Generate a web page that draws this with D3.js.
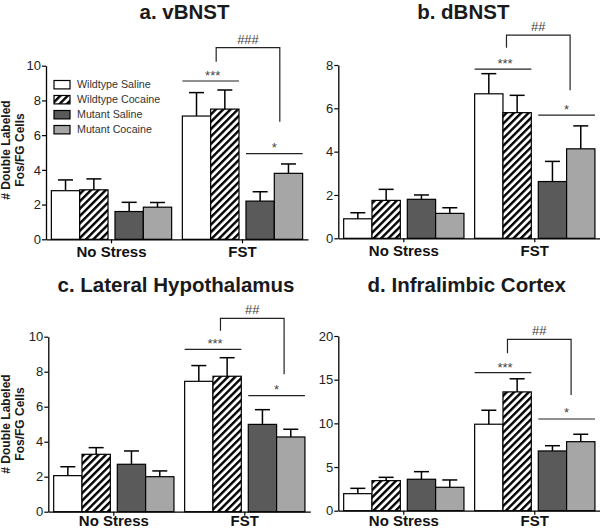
<!DOCTYPE html>
<html><head><meta charset="utf-8">
<script src="https://cdn.jsdelivr.net/npm/d3@7"></script>
<style>body{margin:0;background:#fff} svg{display:block}</style>
</head><body>
<svg id="chart" width="600" height="530"></svg>
<script>
// ---------- data ----------
const categories = ["No Stress", "FST"];
const seriesNames = ["Wildtype Saline", "Wildtype Cocaine", "Mutant Saline", "Mutant Cocaine"];
const panelTitles = ["a. vBNST", "b. dBNST", "c. Lateral Hypothalamus", "d. Infralimbic Cortex"];
const yLabelLines = ["# Double Labeled", "Fos/FG Cells"];
const yMax = [10, 8, 10, 20];
const yTicks = [[0,2,4,6,8,10],[0,2,4,6,8],[0,2,4,6,8,10],[0,5,10,15,20]];

// means and SEM, [category][series]
const vBNSTMeans = [[2.8, 2.85, 1.6, 1.85], [7.1, 7.5, 2.2, 3.8]];
const vBNSTSem   = [[0.62, 0.63, 0.53, 0.27], [1.35, 1.1, 0.54, 0.54]];
const dBNSTMeans = [[0.9, 1.75, 1.8, 1.15], [6.67, 5.8, 2.62, 4.13]];
const dBNSTSem   = [[0.28, 0.51, 0.2, 0.26], [0.93, 0.8, 0.93, 1.06]];
const lhMeans    = [[2.06, 3.28, 2.71, 2.0], [7.45, 7.74, 4.99, 4.27]];
const lhSem      = [[0.51, 0.38, 0.76, 0.33], [0.9, 1.06, 0.84, 0.44]];
const ilMeans    = [[1.95, 3.44, 3.6, 2.68], [9.9, 13.6, 6.84, 7.9]];
const ilSem      = [[0.61, 0.38, 0.87, 0.84], [1.6, 1.5, 0.6, 0.85]];

// significance marks: [wildtype line, bracket top, bracket left end, bracket right end, mutant line]
const sigLabels = [["***", "###", "*"], ["***", "##", "*"], ["***", "##", "*"], ["***", "##", "*"]];
const sigLevels = [
  [9.12, 11.04, 10.23, 6.77, 4.94],
  [7.81, 9.38, 8.8, 6.84, 5.69],
  [9.28, 11.05, 10.34, 7.85, 6.63],
  [15.8, 19.62, 18.02, 13.25, 10.5]
];

const allMeans = [vBNSTMeans, dBNSTMeans, lhMeans, ilMeans];
const allSem = [vBNSTSem, dBNSTSem, lhSem, ilSem];

// ---------- layout / style ----------
const layout = [
  {left: 46,    top: 65.7, bottom: 239.3, titleX: 184.5, titleY: 18.8,  brOff: 5.5, legend: true,  yLab: true,  yLabC: 150, catY: 18},
  {left: 338.3, top: 65,   bottom: 238.3, titleX: 463.3, titleY: 18.8,  brOff: 3.5, legend: false, yLab: false, catY: 18},
  {left: 48.3,  top: 336.7,bottom: 511.7, titleX: 176,   titleY: 291.7, brOff: 7.5, legend: false, yLab: true,  yLabC: 424, catY: 14.6},
  {left: 338.3, top: 336,  bottom: 510.7, titleX: 466.7, titleY: 292.3, brOff: 4.5, legend: false, yLab: false, catY: 15.4}
];
const plotW = 262;
const fills = ["#ffffff", "url(#hatch)", "#5a5a5a", "#a6a6a6"];
const FONT = "Liberation Sans, Arial, Helvetica, sans-serif";

const svg = d3.select("#chart");
const defs = svg.append("defs");
const pat = defs.append("pattern").attr("id", "hatch")
  .attr("patternUnits", "userSpaceOnUse").attr("width", 5.2).attr("height", 5.2)
  .attr("patternTransform", "rotate(45)");
pat.append("rect").attr("width", 5.2).attr("height", 5.2).attr("fill", "#fff");
pat.append("rect").attr("width", 2.4).attr("height", 5.2).attr("fill", "#000");

layout.forEach((L, p) => {
  const g = svg.append("g");
  const y = d3.scaleLinear().domain([0, yMax[p]]).range([L.bottom, L.top]);
  const x0 = d3.scaleBand().domain(categories).range([L.left, L.left + plotW])
    .paddingInner(0.0817).paddingOuter(0.041);
  const bw = x0.bandwidth();
  const pairGap = bw * 0.058;
  const barW = (bw - pairGap) / 4;
  const barX = (cat, i) => x0(cat) + i * barW + (i >= 2 ? pairGap : 0);

  // title
  g.append("text").attr("x", L.titleX).attr("y", L.titleY)
    .attr("text-anchor", "middle").attr("font-family", FONT)
    .attr("font-weight", "bold").attr("font-size", 20.5).attr("fill", "#1a1a1a")
    .text(panelTitles[p]);

  // bars
  const rows = [];
  categories.forEach((cat, ci) => {
    seriesNames.forEach((s, si) => {
      rows.push({cat, si, v: allMeans[p][ci][si], e: allSem[p][ci][si]});
    });
  });
  g.selectAll("rect.bar").data(rows).join("rect").attr("class", "bar")
    .attr("x", d => barX(d.cat, d.si)).attr("width", barW)
    .attr("y", d => y(d.v)).attr("height", d => y(0) - y(d.v))
    .attr("fill", d => fills[d.si]).attr("stroke", "#000").attr("stroke-width", 1.2);

  // error bars (upper only)
  const capW = 15;
  rows.forEach(d => {
    const cx = barX(d.cat, d.si) + barW / 2;
    g.append("line").attr("x1", cx).attr("x2", cx).attr("y1", y(d.v)).attr("y2", y(d.v + d.e))
      .attr("stroke", "#000").attr("stroke-width", 1.5);
    g.append("line").attr("x1", cx - capW / 2).attr("x2", cx + capW / 2)
      .attr("y1", y(d.v + d.e)).attr("y2", y(d.v + d.e))
      .attr("stroke", "#000").attr("stroke-width", 1.5);
  });

  // y axis
  const ya = g.append("g").attr("transform", `translate(${L.left},0)`)
    .call(d3.axisLeft(y).tickValues(yTicks[p]).tickSize(4).tickSizeOuter(0).tickPadding(1));
  ya.select(".domain").attr("stroke", "#000").attr("stroke-width", 1.3);
  ya.selectAll(".tick line").attr("stroke", "#000").attr("stroke-width", 1.2);
  ya.selectAll(".tick text").attr("font-family", FONT).attr("font-size", 13).attr("fill", "#222");

  // x axis
  const xa = g.append("g").attr("transform", `translate(0,${L.bottom})`)
    .call(d3.axisBottom(x0).tickSize(4).tickSizeOuter(0));
  xa.select(".domain").attr("stroke", "#000").attr("stroke-width", 1.3);
  xa.selectAll(".tick line").attr("stroke", "#000").attr("stroke-width", 1.2);
  xa.selectAll(".tick text").attr("font-family", FONT).attr("font-size", 15)
    .attr("font-weight", "bold").attr("fill", "#111").attr("y", L.catY).attr("dy", 0);

  // y label
  if (L.yLab) {
    yLabelLines.forEach((t, i) => {
      g.append("text").attr("transform", `translate(${10 + i * 13.5},${L.yLabC}) rotate(-90)`)
        .attr("text-anchor", "middle").attr("font-family", FONT).attr("font-weight", "bold")
        .attr("font-size", 12).attr("fill", "#1a1a1a").text(t);
    });
  }

  // legend
  if (L.legend) {
    const lg = g.append("g");
    seriesNames.forEach((s, i) => {
      const cy = 84.7 + i * 15;
      lg.append("rect").attr("x", 54).attr("y", cy - 4.2).attr("width", 16).attr("height", 8.4)
        .attr("fill", fills[i]).attr("stroke", "#000").attr("stroke-width", 1.2);
      lg.append("text").attr("x", 77).attr("y", cy).attr("dy", "0.35em")
        .attr("font-family", FONT).attr("font-size", 10.7).attr("fill", "#333").text(s);
    });
  }

  // significance annotations (FST group)
  const fst = categories[1];
  const lv = sigLevels[p];
  const lb = sigLabels[p];
  const wtL = barX(fst, 0), wtR = barX(fst, 1) + barW;
  const mtL = barX(fst, 2), mtR = barX(fst, 3) + barW;
  const lineAttrs = sel => sel.attr("stroke", "#222").attr("stroke-width", 1.2).attr("fill", "none");
  const txt = (tx, ty, t) => g.append("text").attr("x", tx).attr("y", ty).attr("text-anchor", "middle")
    .attr("font-family", FONT).attr("font-size", 13).attr("fill", "#444").text(t);

  g.append("line").attr("x1", wtL).attr("x2", wtR).attr("y1", y(lv[0])).attr("y2", y(lv[0])).call(lineAttrs);
  txt((wtL + wtR) / 2 + 2, y(lv[0]) - 1, lb[0]);

  const bxL = (wtL + wtR) / 2 + L.brOff, bxR = (mtL + mtR) / 2 + L.brOff;
  g.append("path").attr("d", `M${bxL},${y(lv[2])}V${y(lv[1])}H${bxR}V${y(lv[3])}`).call(lineAttrs);
  txt((bxL + bxR) / 2, y(lv[1]) - 4, lb[1]);

  g.append("line").attr("x1", mtL).attr("x2", mtR).attr("y1", y(lv[4])).attr("y2", y(lv[4])).call(lineAttrs);
  txt((mtL + mtR) / 2, y(lv[4]) - 1.5, lb[2]);
});
</script>
</body></html>
